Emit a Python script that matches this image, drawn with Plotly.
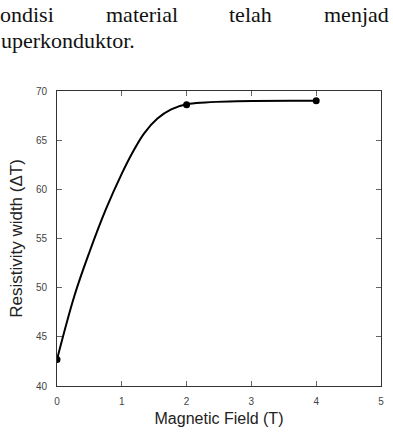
import plotly.graph_objects as go

# Smooth curve
curve_x = [0, 0.27, 0.5, 0.75, 1.0, 1.17, 1.345, 1.55, 1.755, 2.0, 4.0]
curve_y = [42.7, 49.2, 53.6, 57.9, 61.6, 63.8, 65.7, 67.2, 68.1, 68.65, 69.0]

# Measured points
point_x = [0, 2, 4]
point_y = [42.7, 68.6, 69.0]

x_ticks = [0, 1, 2, 3, 4, 5]
y_ticks = [40, 45, 50, 55, 60, 65, 70]

W, H = 393, 433
L, R, T, B = 57, 9, 91, 45
pw, ph = W - L - R, H - T - B

def px(x):
    return (x - L) / pw

def py(y):
    return 1 - (y - T) / ph

fig = go.Figure()
fig.add_trace(go.Scatter(x=curve_x, y=curve_y, mode="lines",
                         line=dict(color="black", width=2, shape="spline", smoothing=1.0),
                         hoverinfo="skip", showlegend=False))
fig.add_trace(go.Scatter(x=point_x, y=point_y, mode="markers", marker=dict(color="black", size=7),
                         showlegend=False))

axis_common = dict(showline=True, linecolor="#333", linewidth=1, mirror="ticks", ticks="inside",
                   ticklen=5, tickcolor="#666", showgrid=False, zeroline=False,
                   tickfont=dict(family="Liberation Sans, Arial", size=10, color="#444"))

fig.update_xaxes(range=[0, 5], tickvals=x_ticks, ticklabelstandoff=6,
                 title=dict(text="Magnetic Field (T)", font=dict(family="Liberation Sans, Arial", size=16, color="#222"), standoff=6),
                 **axis_common)
fig.update_yaxes(range=[40, 70], tickvals=y_ticks, ticklabelstandoff=7,
                 title=dict(text="Resistivity width (ΔT)", font=dict(family="Liberation Sans, Arial", size=17, color="#222"), standoff=8),
                 **axis_common)

serif = dict(family="Liberation Serif, Times New Roman", size=22, color="#111")
words = [("ondisi", -3, 14), ("material", 104, 14), ("telah", 229, 14), ("menjad", 324, 14), ("uperkonduktor.", -2, 40)]
for text, xp, yp in words:
    fig.add_annotation(text=text, x=px(xp), y=py(yp), xref="paper", yref="paper", showarrow=False,
                       xanchor="left", yanchor="middle", font=serif)

fig.update_layout(width=W, height=H, margin=dict(l=L, r=R, t=T, b=B),
                  plot_bgcolor="white", paper_bgcolor="white")

fig.write_html("out.html")
